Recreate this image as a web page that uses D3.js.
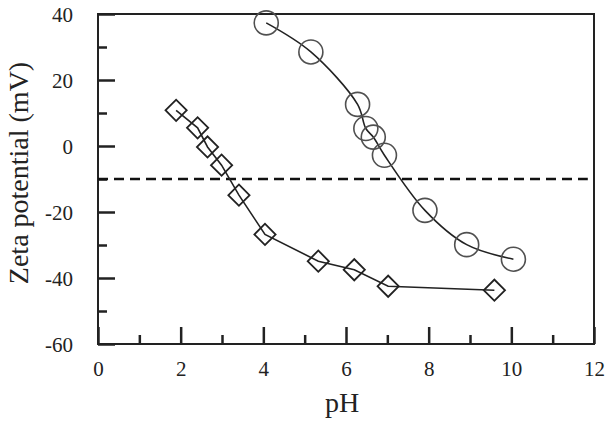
<!DOCTYPE html>
<html>
<head>
<meta charset="utf-8">
<script src="https://d3js.org/d3.v7.min.js"></script>
<style>
  body { margin: 0; background: #fff; }
</style>
</head>
<body>
<div id="chart"></div>
<script>
// circles series
var circPH = [4.07, 5.15, 6.28, 6.48, 6.66, 6.93, 7.91, 8.92, 10.05];
var circZeta = [37.3, 28.5, 12.6, 5.3, 2.7, -2.8, -19.5, -29.9, -34.3];
// diamonds series
var diaPH = [1.89, 2.41, 2.65, 2.99, 3.41, 4.04, 5.33, 6.2, 7.02, 9.59];
var diaZeta = [10.8, 5.5, -0.3, -5.8, -14.9, -26.8, -34.9, -37.5, -42.5, -43.7];
var refLine = -10;
var xTicks = [0, 2, 4, 6, 8, 10, 12];
var yTicks = [-60, -40, -20, 0, 20, 40];

var FONT = "'Liberation Serif', 'Times New Roman', Tinos, 'DejaVu Serif', serif";

var W = 607, H = 421;
var margin = {top: 14, right: 13, bottom: 77, left: 98};
var width = W - margin.left - margin.right,
    height = H - margin.top - margin.bottom;

var svg = d3.select("#chart").append("svg")
    .attr("width", W).attr("height", H);
var g = svg.append("g")
    .attr("transform", "translate(" + margin.left + "," + margin.top + ")");

var x = d3.scaleLinear().domain([0, 12]).range([0, width]);
var y = d3.scaleLinear().domain([-60, 40]).range([height, 0]);

// frame
g.append("rect")
  .attr("width", width).attr("height", height)
  .attr("fill", "none").attr("stroke", "#222").attr("stroke-width", 2);

var fmt = function(d) { return String(d); };

// ticks point inward
var xAxis = g.append("g")
  .attr("transform", "translate(0," + height + ")")
  .call(d3.axisBottom(x).tickValues(xTicks).tickSize(-17).tickPadding(25).tickFormat(fmt));
var xMinor = g.append("g")
  .attr("transform", "translate(0," + height + ")")
  .call(d3.axisBottom(x).tickValues(d3.range(1, 12, 2)).tickSize(-9).tickFormat(""));

var yAxis = g.append("g")
  .call(d3.axisLeft(y).tickValues(yTicks).tickSize(-17).tickPadding(25).tickFormat(fmt));
var yMinor = g.append("g")
  .call(d3.axisLeft(y).tickValues(d3.range(-50, 40, 20)).tickSize(-9).tickFormat(""));

[xAxis, xMinor, yAxis, yMinor].forEach(function(a) {
  a.attr("font-family", FONT).attr("font-size", 21);
  a.select(".domain").remove();
  a.selectAll("line").attr("stroke", "#222").attr("stroke-width", 2.5);
  a.selectAll("text").attr("fill", "#222");
});
yAxis.selectAll("text").attr("dy", "0.35em");
xAxis.selectAll("text").attr("dy", "0.35em");

// dashed reference line
g.append("line")
  .attr("x1", 0).attr("x2", x(11.85))
  .attr("y1", y(refLine)).attr("y2", y(refLine))
  .attr("stroke", "#111").attr("stroke-width", 2.5)
  .attr("stroke-dasharray", "10,6");

var smooth = d3.line()
  .x(function(d) { return x(d[0]); })
  .y(function(d) { return y(d[1]); })
  .curve(d3.curveCatmullRom.alpha(0.5));
var straight = d3.line()
  .x(function(d) { return x(d[0]); })
  .y(function(d) { return y(d[1]); });

var circData = circPH.map(function(p, i) { return [p, circZeta[i]]; });
var diaData = diaPH.map(function(p, i) { return [p, diaZeta[i]]; });

g.append("path").datum(circData)
  .attr("fill", "none").attr("stroke", "#222").attr("stroke-width", 1.6)
  .attr("d", smooth);
g.append("path").datum(diaData)
  .attr("fill", "none").attr("stroke", "#222").attr("stroke-width", 1.6)
  .attr("d", straight);

g.selectAll(".circ").data(circData).enter().append("circle")
  .attr("cx", function(d) { return x(d[0]); })
  .attr("cy", function(d) { return y(d[1]); })
  .attr("r", 12)
  .attr("fill", "none").attr("stroke", "#505050").attr("stroke-width", 1.6);

g.selectAll(".dia").data(diaData).enter().append("rect")
  .attr("x", -7.5).attr("y", -7.5).attr("width", 15).attr("height", 15)
  .attr("transform", function(d) { return "translate(" + x(d[0]) + "," + y(d[1]) + ") rotate(45)"; })
  .attr("fill", "none").attr("stroke", "#222").attr("stroke-width", 1.8);

// axis titles
svg.append("text")
  .attr("x", 342).attr("y", 412)
  .attr("text-anchor", "middle")
  .attr("font-family", FONT).attr("font-size", 28).attr("fill", "#222")
  .text("pH");
svg.append("text")
  .attr("transform", "translate(28,173) rotate(-90)")
  .attr("text-anchor", "middle")
  .attr("font-family", FONT).attr("font-size", 28).attr("fill", "#222")
  .text("Zeta potential (mV)");
</script>
</body>
</html>
